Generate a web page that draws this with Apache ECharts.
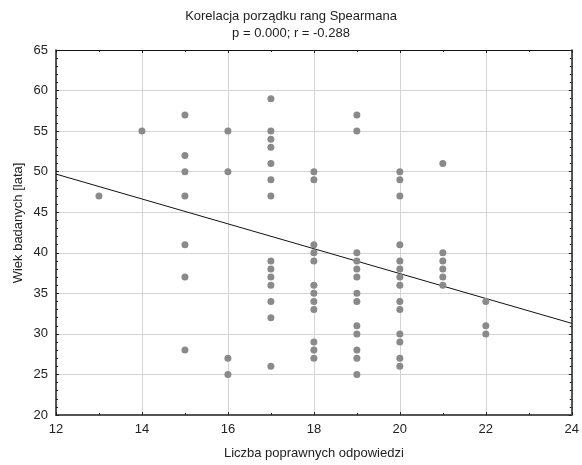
<!DOCTYPE html>
<html>
<head>
<meta charset="utf-8">
<script src="https://cdn.jsdelivr.net/npm/echarts@6/dist/echarts.min.js"></script>
<style>html,body{margin:0;padding:0;background:#fff;}#c{width:582px;height:465px;}</style>
</head>
<body>
<div id="c"></div>
<script>
// Data
const correctAnswers = [13, 14, 15, 16, 17, 18, 19, 20, 21, 22];
const agesByScore = [
  [47],
  [55],
  [57, 52, 50, 47, 41, 37, 28],
  [55, 50, 27, 25],
  [59, 55, 54, 53, 51, 49, 47, 39, 38, 37, 36, 34, 32, 26],
  [50, 49, 41, 40, 39, 36, 35, 34, 33, 29, 28, 27],
  [57, 55, 40, 39, 38, 37, 35, 34, 31, 30, 28, 27, 25],
  [50, 49, 47, 41, 39, 38, 37, 36, 34, 33, 30, 29, 27, 26],
  [51, 40, 39, 38, 37, 36],
  [34, 31, 30]
];
const fitX = [12, 24];
const fitY = [49.7, 31.3];
const titleText = 'Korelacja porządku rang Spearmana';
const subText = 'p = 0.000; r = -0.288';
const xName = 'Liczba poprawnych odpowiedzi';
const yName = 'Wiek badanych [lata]';

const points = [];
correctAnswers.forEach((x, i) => agesByScore[i].forEach(y => points.push([x, y])));
const fitLine = fitX.map((x, i) => [x, fitY[i]]);

const FONT = 'Liberation Sans, Arial, sans-serif';
const chart = echarts.init(document.getElementById('c'), null, {renderer: 'canvas'});
const textColor = '#222';
chart.setOption({
  animation: false,
  backgroundColor: '#fff',
  title: {
    text: titleText,
    subtext: subText,
    left: 'center',
    top: 4,
    itemGap: 2,
    textStyle: {fontFamily: FONT, fontSize: 13, fontWeight: 'normal', color: textColor, lineHeight: 15},
    subtextStyle: {fontFamily: FONT, fontSize: 13, color: textColor, lineHeight: 15}
  },
  grid: {left: 56, right: 7, top: 50, bottom: 44},
  xAxis: [{
    type: 'value', min: 12, max: 24, interval: 2, position: 'bottom',
    name: xName, nameLocation: 'middle', nameGap: 32,
    nameTextStyle: {fontFamily: FONT, fontSize: 13, color: textColor},
    axisLine: {show: true, lineStyle: {color: '#555', width: 2}},
    axisTick: {show: true, inside: true, length: 3, lineStyle: {color: '#222'}},
    minorTick: {show: true, splitNumber: 2, length: 2, lineStyle: {color: '#222'}},
    axisLabel: {fontFamily: FONT, fontSize: 13, color: textColor, margin: 8},
    splitLine: {show: true, lineStyle: {color: '#d4d4d4', width: 1}}
  }, {
    type: 'value', min: 12, max: 24, interval: 2, position: 'top',
    axisLine: {show: true, lineStyle: {color: '#111', width: 1}},
    axisTick: {show: true, inside: true, length: 3, lineStyle: {color: '#222'}},
    minorTick: {show: true, splitNumber: 2, length: 2, lineStyle: {color: '#222'}},
    axisLabel: {show: false},
    splitLine: {show: false}
  }],
  yAxis: [{
    type: 'value', min: 20, max: 65, interval: 5, position: 'left',
    axisLine: {show: true, lineStyle: {color: '#222', width: 1.5}},
    axisTick: {show: true, inside: true, length: 3, lineStyle: {color: '#222'}},
    minorTick: {show: true, splitNumber: 5, length: 2, lineStyle: {color: '#222'}},
    axisLabel: {fontFamily: FONT, fontSize: 13, color: textColor, margin: 8},
    splitLine: {show: true, lineStyle: {color: '#d4d4d4', width: 1}}
  }, {
    type: 'value', min: 20, max: 65, interval: 5, position: 'right',
    axisLine: {show: true, lineStyle: {color: '#222', width: 1.5}},
    axisTick: {show: true, inside: true, length: 3, lineStyle: {color: '#222'}},
    minorTick: {show: true, splitNumber: 5, length: 2, lineStyle: {color: '#222'}},
    axisLabel: {show: false},
    splitLine: {show: false}
  }],
  graphic: [{
    type: 'text',
    x: 18, y: 223, rotation: Math.PI / 2,
    style: {text: yName, font: '13px ' + FONT, fill: textColor, align: 'center', verticalAlign: 'middle'}
  }],
  series: [{
    type: 'scatter',
    xAxisIndex: 0, yAxisIndex: 0,
    data: points,
    symbol: 'circle', symbolSize: 7,
    itemStyle: {color: '#8a8a8a', opacity: 1},
    z: 3
  }, {
    type: 'line',
    xAxisIndex: 0, yAxisIndex: 0,
    data: fitLine,
    showSymbol: false, symbol: 'none',
    lineStyle: {color: '#111', width: 1},
    z: 2
  }]
});
</script>
</body>
</html>
